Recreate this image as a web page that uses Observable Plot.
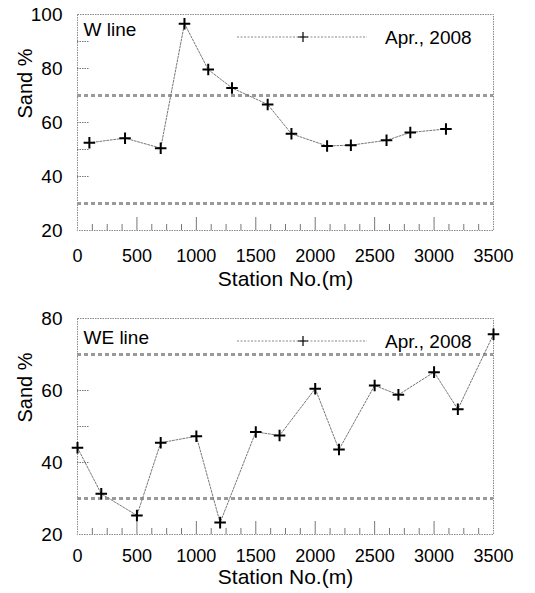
<!DOCTYPE html>
<html><head><meta charset="utf-8">
<script src="https://cdn.jsdelivr.net/npm/d3@7"></script>
<script src="https://cdn.jsdelivr.net/npm/@observablehq/plot@0.6"></script>
<style>
body{margin:0;background:#fff;}
#wrap{width:535px;}
svg{display:block;}
</style>
</head><body><div id="wrap"></div>
<script>
// W line (top panel)
const wStations = [100, 400, 700, 900, 1100, 1300, 1600, 1800, 2100, 2300, 2600, 2800, 3100];
const wSand     = [52.5, 54.2, 50.5, 96.6, 79.6, 72.8, 66.7, 55.8, 51.3, 51.6, 53.4, 56.3, 57.6];
// WE line (bottom panel)
const weStations = [0, 200, 500, 700, 1000, 1200, 1500, 1700, 2000, 2200, 2500, 2700, 3000, 3200, 3500];
const weSand     = [44.1, 31.3, 25.3, 45.5, 47.3, 23.3, 48.5, 47.5, 60.5, 43.6, 61.4, 58.8, 65.1, 54.8, 75.6];
const thresholds = [30, 70];
const xTicks = [0, 500, 1000, 1500, 2000, 2500, 3000, 3500];
const yTicksTop = [20, 40, 60, 80, 100];
const yTicksBottom = [20, 40, 60, 80];
const yMinorTop = [40, 50, 60, 80, 90];
const yMinorBottom = [40, 50, 60];
const xMinor = [125, 250, 375, 500, 625, 750, 875, 1000, 1125, 1250, 1375, 1500, 1625, 1750, 1875, 2000,
                2125, 2250, 2375, 2500, 2625, 2750, 2875, 3000, 3125, 3250, 3375];
const panelTitles = ["W line", "WE line"];
const legendLabel = "Apr., 2008";
const xLabel = "Station No.(m)";
const yLabel = "Sand %";

const font = "'Liberation Sans', Arial, sans-serif";

function panel({stations, sand, yDomain, yTicks, yMinor, title, height, mt, mb, xPad, xLabDy, titleDy, legendY}) {
  const data = stations.map((s, i) => ({s, v: sand[i]}));
  const svg = Plot.plot({
    width: 535, height,
    marginLeft: 77, marginRight: 42, marginTop: mt, marginBottom: mb,
    style: {fontFamily: font, fontSize: "19px", color: "#000", background: "#fff"},
    x: {domain: [0, 3500], axis: null, label: null},
    y: {domain: yDomain, axis: null, label: null},
    marks: [
      Plot.frame({stroke: "#888", strokeDasharray: "1.5,1"}),
      Plot.ruleY(thresholds, {stroke: "#9a9a9a", strokeWidth: 3, strokeDasharray: "4,3"}),
      Plot.ruleY(yMinor, {x1: 0, x2: 3500 * 12 / 416, stroke: "#777", strokeDasharray: "1.5,1"}),
      Plot.axisX({ticks: xMinor.filter(v => v % 500 !== 0), anchor: "bottom", tickSize: -6, text: null, label: null, stroke: "#777"}),
      Plot.axisX({ticks: xMinor.filter(v => v % 500 === 0), anchor: "bottom", tickSize: -13, text: null, label: null, stroke: "#777"}),
      Plot.axisX({ticks: xTicks, tickSize: 0, tickPadding: xPad, tickFormat: "d", fontSize: 18, label: null}),
      Plot.axisY({ticks: yTicks, tickSize: 0, tickPadding: 15, tickFormat: "d", fontSize: 19, label: null}),
      Plot.line(data, {x: "s", y: "v", stroke: "#777", strokeWidth: 1, strokeDasharray: "2,1.5"}),
      Plot.dot(data, {x: "s", y: "v", symbol: "plus", r: 3.8, stroke: "#000", strokeWidth: 2}),
      Plot.text([title], {frameAnchor: "top-left", dx: 6, dy: titleDy, text: d => d, textAnchor: "start", fontSize: 19}),
      Plot.text([xLabel], {frameAnchor: "bottom", dy: xLabDy, text: d => d, fontSize: 21}),
      Plot.text([yLabel], {frameAnchor: "left", dx: -52, dy: -4, rotate: -90, text: d => d, fontSize: 20})
    ]
  });
  const g = d3.select(svg).append("g");
  g.append("line").attr("x1", 237).attr("x2", 367).attr("y1", legendY).attr("y2", legendY)
    .attr("stroke", "#888").attr("stroke-dasharray", "2,1.5");
  g.append("path").attr("d", `M303,${legendY-5}V${legendY+5}M298,${legendY}H308`).attr("stroke", "#000").attr("stroke-width", 1.2);
  g.append("text").attr("x", 385).attr("y", legendY + 7).attr("text-anchor", "start")
    .attr("font-size", 19).attr("font-family", font).text(legendLabel);
  return svg;
}

const wrap = document.getElementById("wrap");
wrap.appendChild(panel({stations: wStations, sand: wSand, yDomain: [20, 100], yTicks: yTicksTop, yMinor: yMinorTop,
  title: panelTitles[0], height: 290, mt: 14, mb: 60, xPad: 19, xLabDy: 55, titleDy: 8, legendY: 37}));
wrap.appendChild(panel({stations: weStations, sand: weSand, yDomain: [20, 80], yTicks: yTicksBottom, yMinor: yMinorBottom,
  title: panelTitles[1], height: 303, mt: 28, mb: 59, xPad: 15, xLabDy: 49, titleDy: 12, legendY: 51}));
</script>
</body></html>
